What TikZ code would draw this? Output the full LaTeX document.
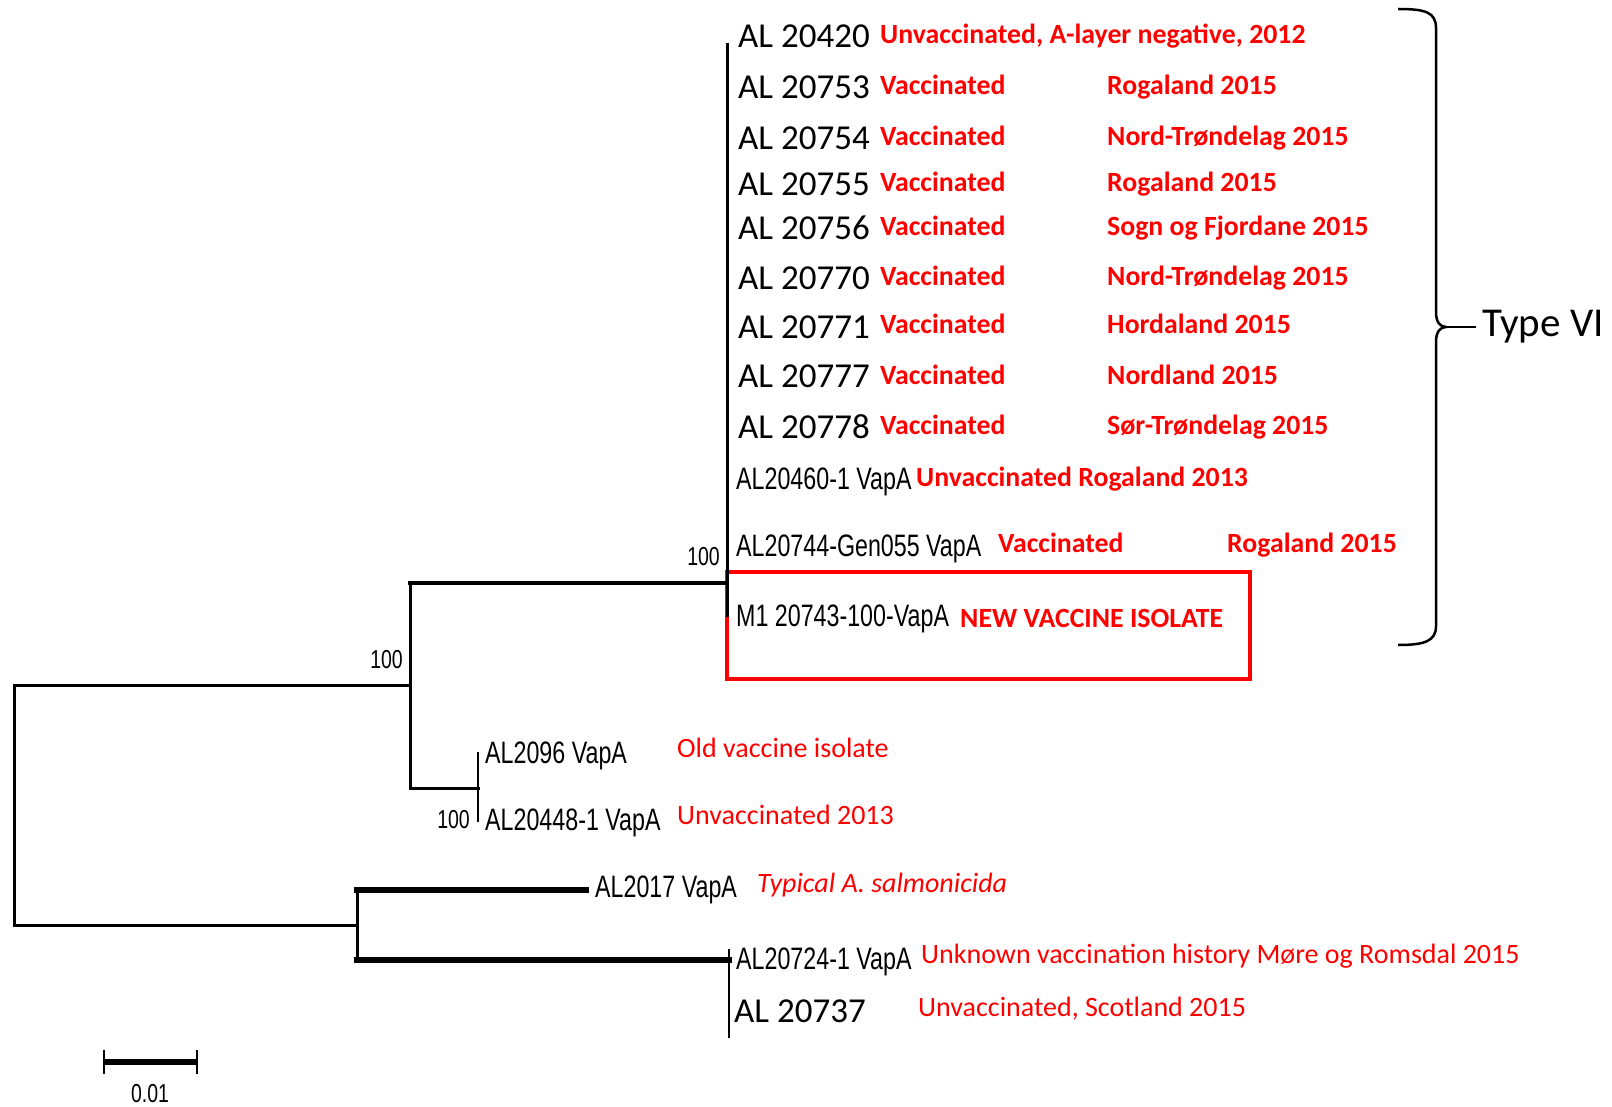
\documentclass[tikz,border=0pt]{standalone}
\usepackage{fontspec}
\setmainfont{Carlito}
\newfontfamily\smalfont[FakeStretch=0.75]{Liberation Sans}
\tikzset{
  gren/.style={line width=3pt,line cap=rect},
  tjock/.style={line width=5.5pt,line cap=rect},
  tunn/.style={line width=2pt},
  namn/.style={anchor=west,inner sep=0pt,text height=22pt,text depth=0pt,font=\fontsize{35}{38}\selectfont},
  smal/.style={anchor=west,inner sep=0pt,text height=22pt,text depth=0pt,font=\smalfont\fontsize{31}{34}\selectfont},
  info/.style={anchor=west,inner sep=0pt,text height=18pt,text depth=0pt,text=red,font=\bfseries\fontsize{27.8}{30}\selectfont},
  infotunn/.style={info,font=\fontsize{28}{30}\selectfont},
  stod/.style={anchor=east,inner sep=0pt,text height=19pt,text depth=0pt,font=\smalfont\fontsize{26}{28}\selectfont},
}

\begin{document}
\begin{tikzpicture}[x=1pt,y=-1pt]
  \useasboundingbox (0,0) rectangle (1612,1107);
  % Typ VI-gruppen
  \node[namn] (t1) at (738,37) {AL 20420};
  \node[info] (v1) at (880,35) {Unvaccinated, A-layer negative, 2012};
  \foreach \id/\y/\ort [count=\i from 2] in {
    AL 20753/88/Rogaland 2015,
    AL 20754/139/Nord-Trøndelag 2015,
    AL 20755/185/Rogaland 2015,
    AL 20756/229/Sogn og Fjordane 2015,
    AL 20770/279/Nord-Trøndelag 2015,
    AL 20771/327/Hordaland 2015,
    AL 20777/377/Nordland 2015,
    AL 20778/427/Sør-Trøndelag 2015}
  {
    \node[namn] (t\i) at (738,\y) {\id};
    \node[info] (v\i) at (880,\y-2) {Vaccinated};
    \node[info] (o\i) at (1107,\y-2) {\ort};
  }
  \node[smal] (t10) at (736,478) {AL20460-1 VapA};
  \node[info] (v10) at (916,477) {Unvaccinated Rogaland 2013};
  \node[smal] (t11) at (736,545) {AL20744-Gen055 VapA};
  \node[info] (v11) at (998,543) {Vaccinated};
  \node[info] (o11) at (1227,543) {Rogaland 2015};
  \node[smal] (t12) at (736,615) {M1 20743-100-VapA};
  \node[info] (v12) at (960,618) {NEW VACCINE ISOLATE};
  \draw[red,line width=4pt] (727,572) rectangle (1250,679);

  % Övriga blad
  \node[smal] (t13) at (485,752) {AL2096 VapA};
  \node[infotunn] (v13) at (677,748) {Old vaccine isolate};
  \node[smal] (t14) at (485,819) {AL20448-1 VapA};
  \node[infotunn] (v14) at (677,815) {Unvaccinated 2013};
  \node[smal] (t15) at (595,886) {AL2017 VapA};
  \node[infotunn,font=\itshape\fontsize{28}{30}\selectfont] (v15) at (757,883) {Typical A. salmonicida};
  \node[smal] (t16) at (736,958) {AL20724-1 VapA};
  \node[infotunn] (v16) at (921,954) {Unknown vaccination history Møre og Romsdal 2015};
  \node[namn] (t17) at (734,1011) {AL 20737};
  \node[infotunn] (v17) at (918,1007) {Unvaccinated, Scotland 2015};

  % Träd
  \coordinate (rot1) at (14,685);
  \coordinate (rot2) at (14,925);
  \coordinate (a0) at (410,685);
  \coordinate (a1) at (410,583);
  \coordinate (a2) at (410,788);
  \coordinate (vi0) at (727,583);
  \coordinate (vi1) at (727,45);
  \coordinate (vi2) at (727,615);
  \coordinate (b0) at (478,788);
  \coordinate (b1) at (478,752);
  \coordinate (b2) at (478,822);
  \coordinate (c0) at (357,925);
  \coordinate (c1) at (357,890);
  \coordinate (c2) at (357,960);
  \coordinate (e) at (586,890);
  \coordinate (d0) at (729,960);
  \coordinate (d1) at (729,949);
  \coordinate (d2) at (729,1038);
  \draw[gren] (rot1) -- (rot2);
  \draw[gren] (rot1) -- (a0);
  \draw[gren] (a1) -- (a2);
  \draw[gren,line width=4pt] (a1) -- (vi0);
  \draw[gren] (vi1) -- (vi2);
  \draw[gren] (a2) -- (b0);
  \draw[tunn] (b1) -- (b2);
  \draw[gren] (rot2) -- (c0);
  \draw[gren] (c1) -- (c2);
  \draw[tjock] (c1) -- (e);
  \draw[tjock] (c2) -- (d0);
  \draw[tunn] (d1) -- (d2);

  % Stödvärden
  \node[stod] (s1) at (403,659) {100};
  \node[stod] (s2) at (720,556) {100};
  \node[stod] (s3) at (470,819) {100};

  % Klammer
  \coordinate (k1) at (1398,9);
  \coordinate (k2) at (1398,645);
  \coordinate (kspets) at (1446,327);
  \coordinate (kslut) at (1476,327);
  \node[anchor=west,inner sep=0pt,font=\fontsize{41}{44}\selectfont] (typ) at (1482,327) {Type VI};
  \draw[line width=2.5pt] (k1) .. controls (1425,9) and (1436,12) .. (1436,28)
    -- (1436,312) .. controls (1436,322) and (1440,327) .. (kspets)
    .. controls (1440,327) and (1436,332) .. (1436,342)
    -- (1436,626) .. controls (1436,641) and (1425,645) .. (k2);
  \draw[line width=2.5pt] (kspets) -- (kslut);

  % Skala
  \coordinate (sk1) at (104,1062);
  \coordinate (sk2) at (197,1062);
  \draw[tjock,line cap=butt] (sk1) -- (sk2);
  \draw[tunn] (104,1050) -- (104,1074);
  \draw[tunn] (197,1050) -- (197,1074);
  \node[inner sep=0pt,font=\smalfont\fontsize{26}{28}\selectfont] (skala) at (150,1094) {0.01};
\end{tikzpicture}
\end{document}
